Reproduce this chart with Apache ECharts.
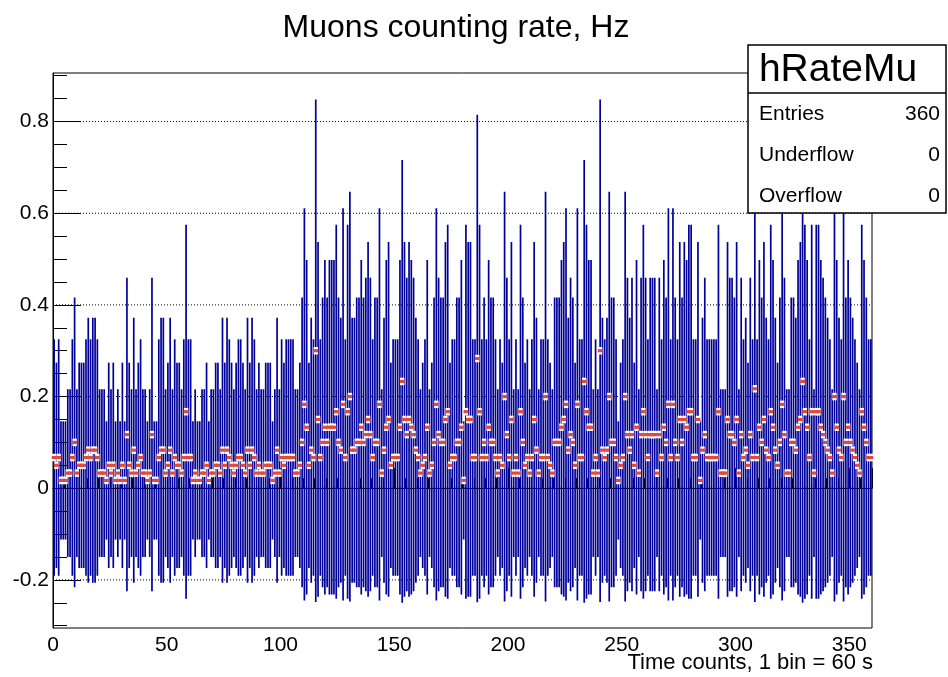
<!DOCTYPE html>
<html><head><meta charset="utf-8">
<script src="https://cdn.jsdelivr.net/npm/echarts@6/dist/echarts.min.js"></script>
<style>html,body{margin:0;padding:0;background:#fff}#c{width:948px;height:677px}</style>
</head><body><div id="c"></div>
<script>
// ---- data ----
const xMin = 0, xMax = 360;
const yMin = -0.305, yMax = 0.906;
const yTickValues = [-0.2, 0, 0.2, 0.4, 0.6, 0.8];
const yMinorValues = [-0.3,-0.25,-0.15,-0.1,-0.05,0.05,0.1,0.15,0.25,0.3,0.35,0.45,0.5,0.55,0.65,0.7,0.75,0.85,0.9];
const titleText = 'Muons counting rate, Hz';
const xTitleText = 'Time counts, 1 bin = 60 s';
const statsTitle = 'hRateMu';
const statNames = ['Entries', 'Underflow', 'Overflow'];
const statValues = ['360', '0', '0'];

// bin contents (Hz), bins 0..119
const rateA = [.067,.05,.067,.017,.017,.017,.033,.033,.067,.1, .033,.05,.05,.05,.067,.083,.067,.083,.083,.067, .033,.033,.033,.017,.05,.033,.05,.017,.033,.017,
 .05,.017,.117,.05,.033,.083,.033,.05,.067,.033, .033,.017,.033,.117,.017,.017,.067,.083,.083,.033, .05,.083,.033,.067,.05,.05,.033,.067,.167,.067,
 .067,.017,.033,.017,.017,.033,.033,.05,.017,.033, .033,.05,.05,.033,.083,.05,.083,.067,.05,.033, .05,.067,.067,.05,.033,.083,.05,.083,.067,.033,
 .05,.033,.033,.05,.05,.05,.017,.033,.083,.033, .067,.05,.067,.067,.067,.067,.033,.033,.05,.1, .183,.133,.05,.083,.067,.3,.15,.067,.1,.133];
// bins 120..239
const rateB = [.1,.133,.133,.133,.167,.1,.083,.183,.067,.167, .2,.083,.083,.1,.1,.133,.1,.117,.15,.117, .067,.1,.1,.183,.033,.083,.133,.15,.05,.067,
 .067,.067,.133,.233,.15,.117,.15,.133,.117,.083, .067,.033,.05,.067,.133,.033,.05,.1,.183,.117, .1,.1,.15,.167,.05,.067,.067,.1,.1,.133,
 .017,.167,.15,.15,.067,.067,.283,.167,.067,.1, .067,.133,.1,.1,.067,.033,.067,.05,.2,.117, .067,.15,.033,.067,.033,.167,.1,.05,.067,.033,
 .067,.15,.083,.033,.067,.067,.2,.067,.05,.033, .1,.1,.1,.133,.15,.183,.083,.117,.1,.05, .183,.067,.067,.233,.167,.133,.133,.033,.067,.033];
// bins 240..359
const rateC = [.3,.083,.067,.083,.2,.1,.1,.067,.017,.05, .067,.2,.117,.083,.117,.05,.133,.033,.117,.167, .117,.067,.117,.117,.117,.033,.117,.067,.133,.1,
 .183,.067,.183,.1,.067,.15,.1,.15,.133,.167, .167,.067,.067,.15,.017,.083,.117,.067,.067,.067, .067,.067,.167,.033,.033,.033,.15,.117,.117,.1,
 .15,.033,.117,.067,.083,.05,.117,.067,.217,.067, .133,.1,.15,.083,.067,.167,.133,.083,.05,.1, .183,.117,.033,.033,.1,.1,.083,.133,.15,.233,
 .167,.133,.067,.167,.033,.167,.167,.133,.117,.1, .083,.067,.033,.2,.133,.083,.067,.2,.1,.133, .1,.083,.067,.05,.033,.167,.133,.1,.067,.067];

// bin errors (Hz)
const errA = [.258,.224,.258,.129,.129,.129,.183,.183,.258,.316, .183,.224,.224,.224,.258,.289,.258,.289,.289,.258, .183,.183,.183,.129,.224,.183,.224,.129,.183,.129,
 .224,.129,.342,.224,.183,.289,.183,.224,.258,.183, .183,.129,.183,.342,.129,.129,.258,.289,.289,.183, .224,.289,.183,.258,.224,.224,.183,.258,.408,.258,
 .258,.129,.183,.129,.129,.183,.183,.224,.129,.183, .183,.224,.224,.183,.289,.224,.289,.258,.224,.183, .224,.258,.258,.224,.183,.289,.224,.289,.258,.183,
 .224,.183,.183,.224,.224,.224,.129,.183,.289,.183, .258,.224,.258,.258,.258,.258,.183,.183,.224,.316, .428,.365,.224,.289,.258,.548,.387,.258,.316,.365];
const errB = [.316,.365,.365,.365,.408,.316,.289,.428,.258,.408, .447,.289,.289,.316,.316,.365,.316,.342,.387,.342, .258,.316,.316,.428,.183,.289,.365,.387,.224,.258,
 .258,.258,.365,.483,.387,.342,.387,.365,.342,.289, .258,.183,.224,.258,.365,.183,.224,.316,.428,.342, .316,.316,.387,.408,.224,.258,.258,.316,.316,.365,
 .129,.408,.387,.387,.258,.258,.532,.408,.258,.316, .258,.365,.316,.316,.258,.183,.258,.224,.447,.342, .258,.387,.183,.258,.183,.408,.316,.224,.258,.183,
 .258,.387,.289,.183,.258,.258,.447,.258,.224,.183, .316,.316,.316,.365,.387,.428,.289,.342,.316,.224, .428,.258,.258,.483,.408,.365,.365,.183,.258,.183];
const errC = [.548,.289,.258,.289,.447,.316,.316,.258,.129,.224, .258,.447,.342,.289,.342,.224,.365,.183,.342,.408, .342,.258,.342,.342,.342,.183,.342,.258,.365,.316,
 .428,.258,.428,.316,.258,.387,.316,.387,.365,.408, .408,.258,.258,.387,.129,.289,.342,.258,.258,.258, .258,.258,.408,.183,.183,.183,.387,.342,.342,.316,
 .387,.183,.342,.258,.289,.224,.342,.258,.465,.258, .365,.316,.387,.289,.258,.408,.365,.289,.224,.316, .428,.342,.183,.183,.316,.316,.289,.365,.387,.483,
 .408,.365,.258,.408,.183,.408,.408,.365,.342,.316, .289,.258,.183,.447,.365,.289,.258,.447,.316,.365, .316,.289,.258,.224,.183,.408,.365,.316,.258,.258];

// ---- build ----
const rates = rateA.concat(rateB, rateC);
const errs = errA.concat(errB, errC);
const binWidth = (xMax - xMin) / rates.length;
const histData = rates.map((v, i) => [xMin + (i + 0.5) * binWidth, v, errs[i]]);
const gridData = yTickValues.map(y => [xMin, y]);

const FONT = 'Liberation Sans, Arial, Helvetica, sans-serif';
const BLUE = '#00009a';
const RED = '#e04a3c';

const chart = echarts.init(document.getElementById('c'), null, {renderer: 'canvas'});

function markerSeries(name, z, w, h, fill) {
  return {
    type: 'custom', name, z, silent: true, data: histData,
    renderItem: (params, api) => {
      const mid = api.coord([api.value(0), api.value(1)]);
      return {type: 'rect', shape: {x: mid[0] - w / 2, y: mid[1] - h / 2, width: w, height: h}, style: {fill}};
    }
  };
}

const option = {
  animation: false,
  backgroundColor: '#fff',
  grid: {left: 53, right: 76, top: 73, bottom: 49, show: true, borderColor: '#000', borderWidth: 1, backgroundColor: 'transparent'},
  xAxis: {
    type: 'value', min: xMin, max: xMax, interval: 50,
    axisLine: {show: true, lineStyle: {color: '#000', width: 1}},
    axisTick: {show: true, inside: true, length: 20, lineStyle: {color: '#000'}},
    minorTick: {show: true, splitNumber: 10, length: 10, lineStyle: {color: '#000'}},
    axisLabel: {color: '#000', fontSize: 21, fontFamily: FONT, margin: 7},
    splitLine: {show: false}
  },
  yAxis: [{
    type: 'value', min: yMin, max: yMax, position: 'left',
    axisLine: {show: true, lineStyle: {color: '#000', width: 1}},
    axisTick: {show: true, inside: true, length: 28, customValues: yTickValues, lineStyle: {color: '#000'}},
    axisLabel: {show: true, customValues: yTickValues, color: '#000', fontSize: 21, fontFamily: FONT, margin: 4,
      formatter: v => Math.abs(v) < 1e-9 ? '0' : String(+v.toFixed(1))},
    splitLine: {show: false}
  }, {
    type: 'value', min: yMin, max: yMax, position: 'left', offset: 0,
    axisLine: {show: false},
    axisTick: {show: true, inside: true, length: 14, customValues: yMinorValues, lineStyle: {color: '#000'}},
    axisLabel: {show: false},
    splitLine: {show: false}
  }],
  series: [
    {
      type: 'custom', name: 'grid', z: 1, silent: true,
      data: gridData,
      renderItem: (params, api) => {
        const p1 = api.coord([xMin, api.value(1)]);
        const p2 = api.coord([xMax, api.value(1)]);
        return {type: 'line', shape: {x1: p1[0], y1: p1[1], x2: p2[0], y2: p2[1]},
          style: {stroke: '#000', lineWidth: 1, lineDash: [1, 2]}};
      }
    },
    {
      type: 'custom', name: 'errors', z: 2, silent: true,
      data: histData,
      renderItem: (params, api) => {
        const x = api.value(0), v = api.value(1), e = api.value(2);
        const top = api.coord([x, v + e]);
        const bot = api.coord([x, v - e]);
        return {type: 'line', shape: {x1: top[0], y1: top[1], x2: bot[0], y2: bot[1]}, style: {stroke: BLUE, lineWidth: 1.7}};
      }
    },
    markerSeries('markerGap', 3, 4.4, 7.5, '#ffffff'),
    markerSeries('markers', 4, 4.8, 3.2, RED)
  ],
  graphic: [
    {type: 'text', x: 456, y: 28, style: {text: titleText, font: '32px ' + FONT, fill: '#000', align: 'center', verticalAlign: 'middle'}},
    {type: 'text', x: 873, y: 663, style: {text: xTitleText, font: '22px ' + FONT, fill: '#000', align: 'right', verticalAlign: 'middle'}},
    {type: 'rect', z: 10, shape: {x: 748, y: 45, width: 198, height: 168}, style: {fill: '#fff', stroke: '#000', lineWidth: 1.5}},
    {type: 'line', z: 11, shape: {x1: 748, y1: 93, x2: 946, y2: 93}, style: {stroke: '#000', lineWidth: 1.5}},
    {type: 'text', z: 11, x: 838, y: 70, style: {text: statsTitle, font: '39px ' + FONT, fill: '#000', align: 'center', verticalAlign: 'middle'}},
    ...statNames.map((s, i) => ({type: 'text', z: 11, x: 759, y: 114 + i * 41, style: {text: s, font: '21px ' + FONT, fill: '#000', align: 'left', verticalAlign: 'middle'}})),
    ...statValues.map((s, i) => ({type: 'text', z: 11, x: 940, y: 114 + i * 41, style: {text: s, font: '21px ' + FONT, fill: '#000', align: 'right', verticalAlign: 'middle'}}))
  ]
};
chart.setOption(option);
</script>
</body></html>
